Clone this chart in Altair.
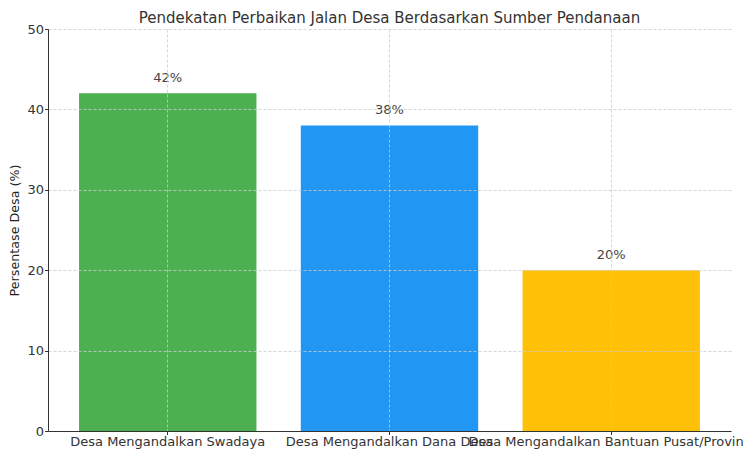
import altair as alt
import pandas as pd

categories = ["Desa Mengandalkan Swadaya", "Desa Mengandalkan Dana Desa", "Desa Mengandalkan Bantuan Pusat/Provinsi"]
values = [42, 38, 20]
labels = ["42%", "38%", "20%"]
colors = ["#4CAF50", "#2196F3", "#FFC107"]

df = pd.DataFrame({"cat": categories, "val": values, "lab": labels})

x = alt.X("cat:N", sort=categories, title=None,
          scale=alt.Scale(paddingInner=0.2, paddingOuter=0.14),
          axis=alt.Axis(labelAngle=0, labelFontSize=13, labelColor="#333333", labelFont="DejaVu Sans",
                        labelOverlap=False, labelLimit=0, grid=True, bandPosition=0.5,
                        gridColor="#cccccc", gridDash=[3, 2], gridOpacity=0.8,
                        domainColor="#333333", tickColor="#333333", tickSize=3.5, labelPadding=1,
                        zindex=1))
y = alt.Y("val:Q", title="Persentase Desa (%)",
          scale=alt.Scale(domain=[0, 50]),
          axis=alt.Axis(values=[0, 10, 20, 30, 40, 50], labelFontSize=13, labelColor="#333333",
                        labelFont="DejaVu Sans", titleFont="DejaVu Sans", titleFontSize=12.7,
                        titleFontWeight="normal", titleColor="#222222", titlePadding=5,
                        labelPadding=1,
                        gridColor="#cccccc", gridDash=[3, 2], gridOpacity=0.8,
                        domainColor="#333333", tickColor="#333333", tickSize=3.5, zindex=1))

bars = alt.Chart(df).mark_bar().encode(
    x=x, y=y,
    color=alt.Color("cat:N", sort=categories, scale=alt.Scale(domain=categories, range=colors), legend=None),
)
text = alt.Chart(df).mark_text(dy=-15.5, fontSize=13, color="#444444", font="DejaVu Sans").encode(
    x=alt.X("cat:N", sort=categories), y="val:Q", text="lab:N")

chart = (bars + text).properties(
    width=683, height=402,
    title=alt.TitleParams("Pendekatan Perbaikan Jalan Desa Berdasarkan Sumber Pendanaan",
                          fontSize=15, fontWeight="normal", font="DejaVu Sans", color="#333333", offset=-3),
    autosize=alt.AutoSizeParams(type="none"),
    padding={"left": 40, "top": 21, "right": 12, "bottom": 18},
).configure_view(stroke=None)

chart.save("out.html", embed_options={"renderer": "svg", "actions": False})
